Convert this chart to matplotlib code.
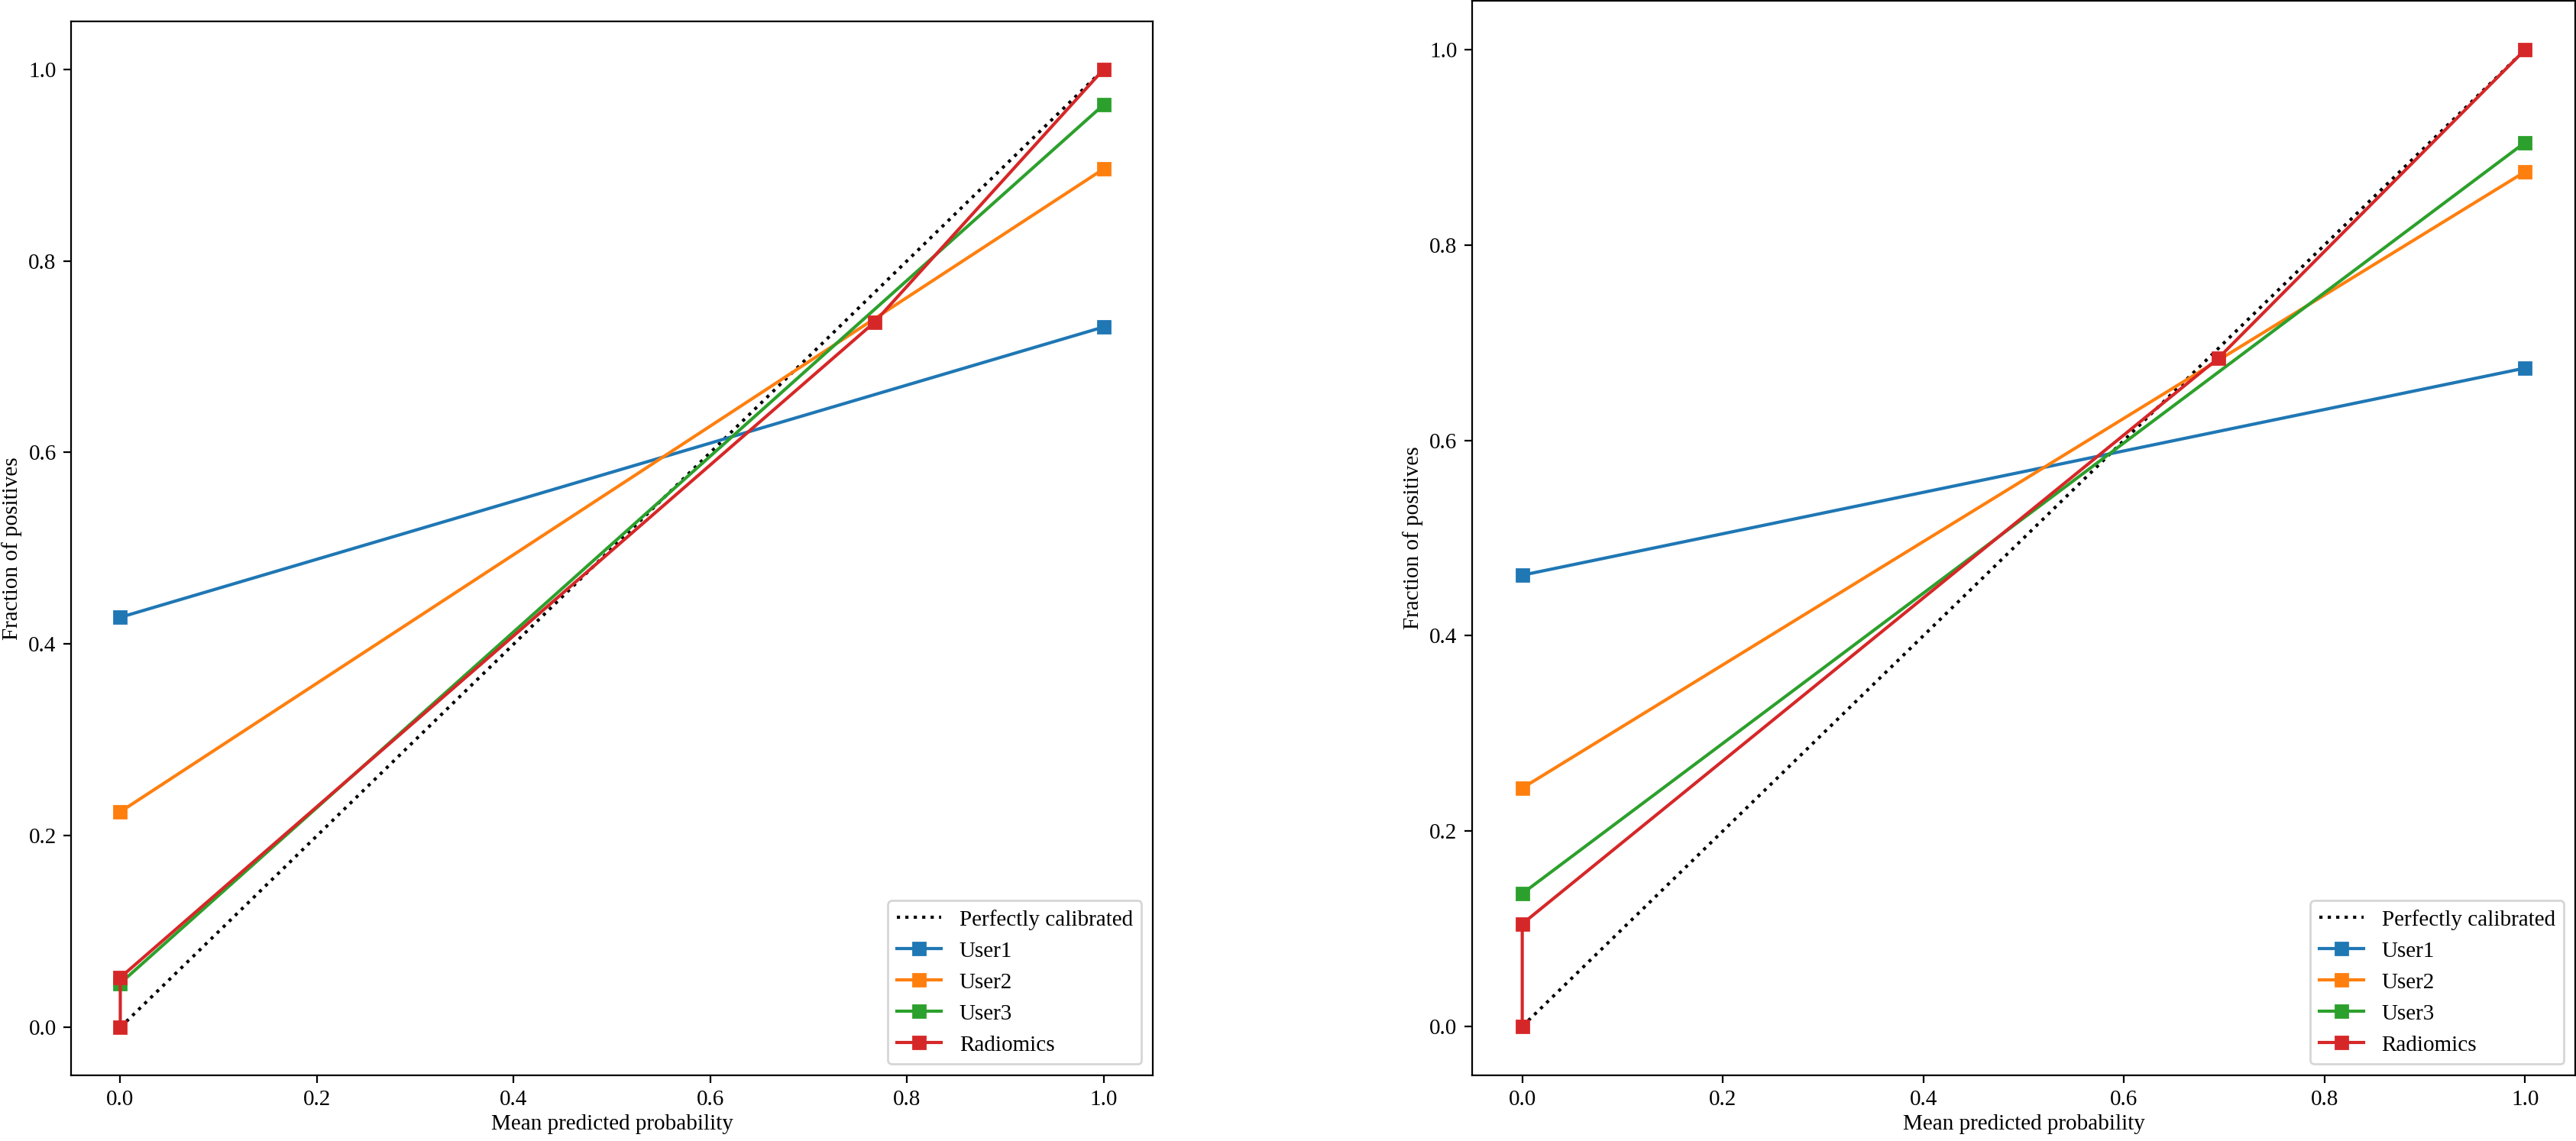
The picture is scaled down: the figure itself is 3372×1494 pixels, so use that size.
import matplotlib
matplotlib.use("Agg")
import matplotlib.pyplot as plt

plt.rcParams['font.family'] = ['Liberation Serif', 'DejaVu Serif']
plt.rcParams['font.size'] = 10.5

names = ["User1", "User2", "User3", "Radiomics"]
colors = ["#1f77b4", "#ff7f0e", "#2ca02c", "#d62728"]

# left panel: mean predicted probability / fraction of positives
left_x = [[0.0, 1.0], [0.0, 1.0], [0.0, 1.0], [0.0, 0.0, 0.767, 1.0]]
left_y = [[0.428, 0.731], [0.225, 0.896], [0.046, 0.963], [0.0, 0.052, 0.736, 1.0]]

# right panel
right_x = [[0.0, 1.0], [0.0, 1.0], [0.0, 1.0], [0.0, 0.0, 0.694, 1.0]]
right_y = [[0.462, 0.674], [0.244, 0.875], [0.136, 0.905], [0.0, 0.105, 0.684, 1.0]]

ticks = [0.0, 0.2, 0.4, 0.6, 0.8, 1.0]


def draw_panel(ax, xs, ys):
    ax.plot([0, 1], [0, 1], 'k:', label="Perfectly calibrated")
    for x, y, n, c in zip(xs, ys, names, colors):
        ax.plot(x, y, 's-', color=c, label=n)
    ax.set_xlim(-0.05, 1.05)
    ax.set_ylim(-0.05, 1.05)
    ax.set_xticks(ticks)
    ax.set_yticks(ticks)
    ax.set_xlabel("Mean predicted probability", labelpad=2)
    ax.set_ylabel("Fraction of positives", labelpad=3)
    ax.legend(loc="lower right")


fig = plt.figure(figsize=(16.865, 7.47), dpi=200)
ax1 = fig.add_axes([0.0276, 0.0576, 0.4198, 0.9237])
ax2 = fig.add_axes([0.5713, 0.0576, 0.4281, 0.9417])

draw_panel(ax1, left_x, left_y)
draw_panel(ax2, right_x, right_y)

fig.savefig("out.png", dpi=200)
